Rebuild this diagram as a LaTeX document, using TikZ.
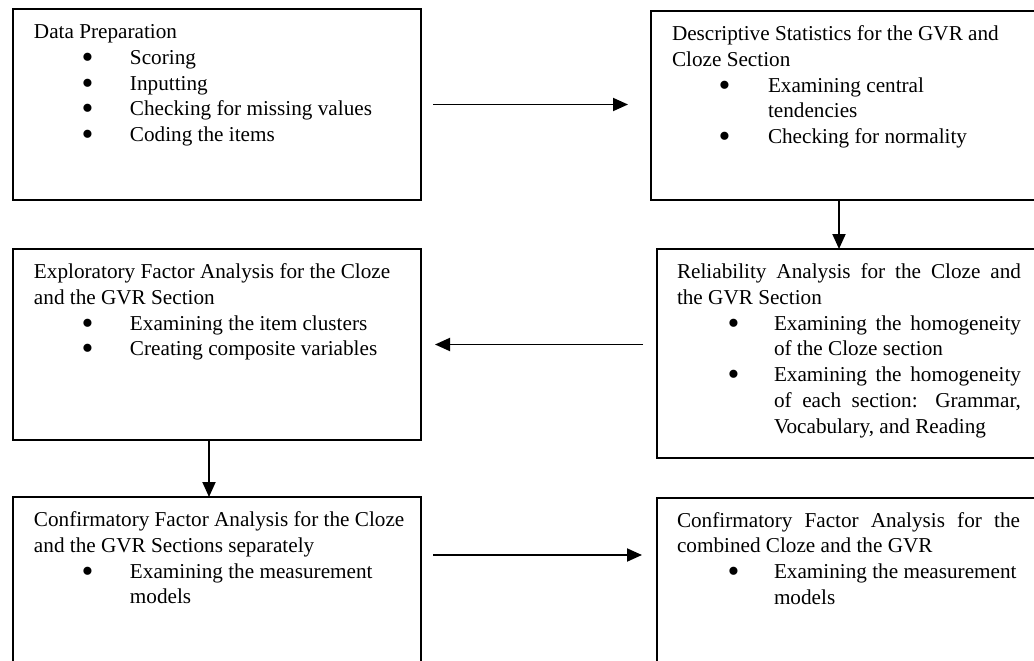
\documentclass[tikz,border=0pt]{standalone}
\usepackage{graphicx}
\usepackage{fontspec}
\setmainfont{Liberation Serif}
\usetikzlibrary{arrows.meta}

% horizontal positions of the bullet glyph and of the item text
\newlength\bulletx
\newlength\itemtextx
\newcommand\dotmark{\smash{\raisebox{-4pt}{\scalebox{1.6}{\textbullet}}}}
\newcommand\bl[1]{\hspace*{\bulletx}\makebox[\dimexpr\itemtextx-\bulletx\relax][l]{\dotmark}#1}
\newcommand\cl[1]{\hspace*{\itemtextx}#1}
\newcommand\bj[2]{\hspace*{\bulletx}\makebox[\dimexpr\itemtextx-\bulletx\relax][l]{\dotmark}\makebox[#1][s]{#2}}
\newcommand\cj[2]{\hspace*{\itemtextx}\makebox[#1][s]{#2}}

\tikzset{
  stagebox/.style={draw, line width=2pt, rectangle, anchor=north west,
    inner sep=0pt, outer sep=0pt},
  stagetext/.style={anchor=base west, inner sep=0pt, outer sep=0pt,
    font=\fontsize{21.2}{25.8}\selectfont},
  flow/.style={line width=1.9pt, -{Triangle[length=15pt,width=13pt]}},
}

\begin{document}
\begin{tikzpicture}[x=1pt,y=-1pt]
\useasboundingbox (0,0) rectangle (1034,661);
\clip (0,0) rectangle (1034,661);

% frames of the six stages
\node[stagebox, minimum width=408pt, minimum height=191pt] (prep) at (13,9) {};
\node[stagebox, minimum width=420pt, minimum height=189pt] (desc) at (651,11) {};
\node[stagebox, minimum width=408pt, minimum height=191pt] (efa)  at (13,249) {};
\node[stagebox, minimum width=420pt, minimum height=209pt] (rel)  at (657,249) {};
\node[stagebox, minimum width=408pt, minimum height=220pt] (cfa1) at (13,497) {};
\node[stagebox, minimum width=420pt, minimum height=220pt] (cfa2) at (657,498) {};

% contents of the stages
\node[stagetext] (preptext) at ([shift={(21,29.5)}]prep.north west)
  {\parbox[t]{380pt}{\bulletx=47.5pt \itemtextx=96pt
   Data Preparation\\
   \bl{Scoring}\\
   \bl{Inputting}\\
   \bl{Checking for missing values}\\
   \bl{Coding the items}}};

\node[stagetext] (desctext) at ([shift={(21,29.5)}]desc.north west)
  {\parbox[t]{350pt}{\bulletx=46.5pt \itemtextx=96pt
   Descriptive Statistics for the GVR and\\
   Cloze Section\\
   \bl{Examining central}\\
   \cl{tendencies}\\
   \bl{Checking for normality}}};

\node[stagetext] (efatext) at ([shift={(21,29.5)}]efa.north west)
  {\parbox[t]{380pt}{\bulletx=47.5pt \itemtextx=96pt
   Exploratory Factor Analysis for the Cloze\\
   and the GVR Section\\
   \bl{Examining the item clusters}\\
   \bl{Creating composite variables}}};

\node[stagetext] (reltext) at ([shift={(20,29.5)}]rel.north west)
  {\parbox[t]{350pt}{\bulletx=50.5pt \itemtextx=97pt
   \makebox[344pt][s]{Reliability Analysis for the Cloze and}\\
   the GVR Section\\
   \bj{247pt}{Examining the homogeneity}\\
   \cl{of the Cloze section}\\
   \bj{247pt}{Examining the homogeneity}\\
   \cj{247pt}{of each section: Grammar,}\\
   \cl{Vocabulary, and Reading}}};

\node[stagetext] (cfa1text) at ([shift={(21,29.5)}]cfa1.north west)
  {\parbox[t]{380pt}{\bulletx=47.5pt \itemtextx=96pt
   Confirmatory Factor Analysis for the Cloze\\
   and the GVR Sections separately\\
   \bl{Examining the measurement}\\
   \cl{models}}};

\node[stagetext] (cfa2text) at ([shift={(20,29)}]cfa2.north west)
  {\parbox[t]{350pt}{\bulletx=50.5pt \itemtextx=97pt
   \makebox[343pt][s]{Confirmatory Factor Analysis for the}\\
   combined Cloze and the GVR\\
   \bl{Examining the measurement}\\
   \cl{models}}};

% connectors between the stages
\coordinate (rightdrop) at (839,0);
\coordinate (leftdrop) at (209,0);

\draw[flow, shorten <=12pt, shorten >=23pt] (prep.east) -- (prep.east -| desc.west);
\draw[flow] (desc.south -| rightdrop) -- (rel.north -| rightdrop);
\draw[flow, shorten <=14pt, shorten >=14pt] (rel.west |- efa.east) -- (efa.east);
\draw[flow] (efa.south -| leftdrop) -- (cfa1.north -| leftdrop);
\draw[flow] ([shift={(12,58)}]cfa1.north east) -- ([shift={(-15,58)}]cfa1.north east -| cfa2.west);
\end{tikzpicture}
\end{document}
